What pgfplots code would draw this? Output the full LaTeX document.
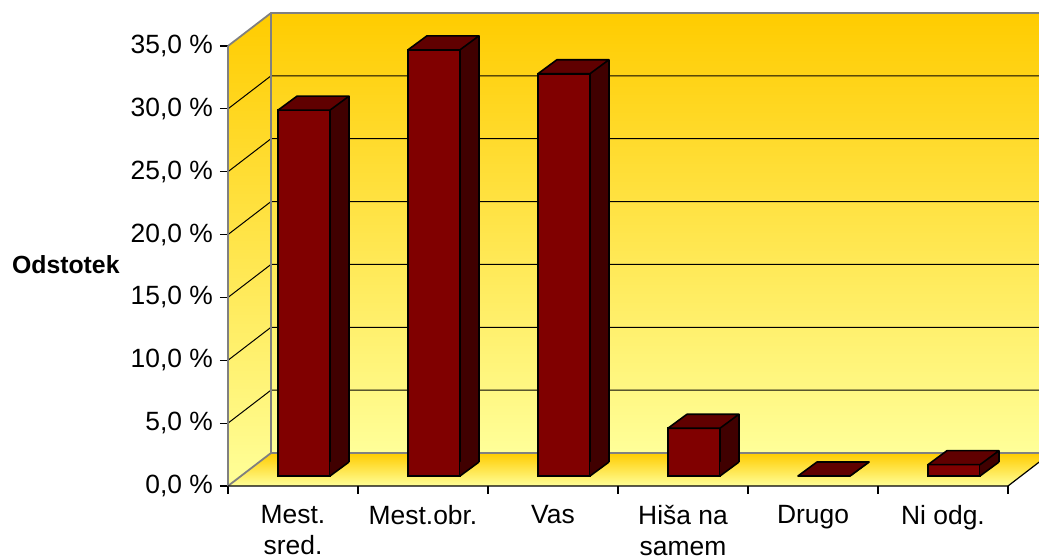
\documentclass[border=0pt]{standalone}
\usepackage{pgfplots}
\pgfplotsset{compat=1.18}
\usepackage{pgfplotstable}
\usepackage{fontspec}
\setmainfont{Liberation Sans}

\definecolor{gold}{RGB}{255,204,0}
\definecolor{pale}{RGB}{255,255,153}
\definecolor{barfront}{RGB}{128,0,0}
\definecolor{bartop}{RGB}{96,0,0}
\definecolor{barside}{RGB}{64,0,0}
\definecolor{edgegray}{RGB}{128,128,128}

% top face of a bar; the mark sits at the top front centre
\pgfdeclareplotmark{bartopface}{%
  \pgfsetstrokecolor{black}%
  \pgfsetlinewidth{0.8pt}%
  \pgfsetroundjoin
  \pgfpathmoveto{\pgfqpoint{-13pt}{0pt}}%
  \pgfpathlineto{\pgfqpoint{13pt}{0pt}}%
  \pgfpathlineto{\pgfqpoint{22.5pt}{7pt}}%
  \pgfpathlineto{\pgfqpoint{-3.5pt}{7pt}}%
  \pgfpathclose
  \pgfsetfillcolor{bartop}%
  \pgfusepath{fill,stroke}%
}
% lower corner of the side face; the mark sits at the bottom front centre
\pgfdeclareplotmark{barsidefoot}{%
  \pgfpathmoveto{\pgfqpoint{13pt}{0pt}}%
  \pgfpathlineto{\pgfqpoint{22.5pt}{7pt}}%
  \pgfpathlineto{\pgfqpoint{13pt}{7pt}}%
  \pgfpathclose
  \pgfsetfillcolor{barside}%
  \pgfusepath{fill}%
  \pgfsetstrokecolor{black}%
  \pgfsetlinewidth{0.8pt}%
  \pgfpathmoveto{\pgfqpoint{13pt}{0pt}}%
  \pgfpathlineto{\pgfqpoint{22.5pt}{7pt}}%
  \pgfusepath{stroke}%
}

\pgfplotstableread{
x v
0 29.1
1 33.9
2 32.0
3 3.8
4 0
5 0.9
}\datatable

\begin{document}
\begin{tikzpicture}
\useasboundingbox (0,0) rectangle (519.5pt,280pt);
\clip (0,0) rectangle (519.5pt,280pt);
\begin{axis}[
  at={(114pt,37pt)}, anchor=south west,
  scale only axis, width=390pt, height=220pt,
  xmin=-0.5, xmax=5.5, ymin=0, ymax=35,
  clip=false,
  axis line style={draw=none},
  tick pos=left, tick align=outside,
  major tick length=4pt,
  tick style={black, line width=0.6pt},
  xtick={-0.5,0.5,...,5.5},
  xticklabels={},
  extra x ticks={0,1,2,3,4,5},
  extra x tick labels={{Mest.\\sred.},Mest.obr.,Vas,{Hiša na\\samem},Drugo,Ni odg.},
  extra x tick style={major tick length=0pt},
  ytick={0,5,...,35},
  /pgf/number format/assume math mode=true,
  yticklabel={\pgfmathprintnumber[fixed,fixed zerofill,precision=1,use comma]{\tick}~\%},
  tick label style={font=\fontsize{13.2}{15.5}\selectfont},
  xticklabel style={align=center, yshift=-6pt},
  ylabel={Odstotek},
  every axis y label/.style={at={(axis description cs:-0.1385,0.484)},anchor=base east,inner sep=0pt,font=\bfseries\fontsize{12.4}{15}\selectfont},
]
% walls and floor
\shade[top color=gold, bottom color=pale]
  ([shift={(21.5pt,16.5pt)}]axis cs:-0.5,0) rectangle ([shift={(21.5pt,16.5pt)}]axis cs:5.5,35);
\shade[top color=gold, bottom color=pale]
  (axis cs:-0.5,0) -- ([shift={(21.5pt,16.5pt)}]axis cs:-0.5,0) -- ([shift={(21.5pt,16.5pt)}]axis cs:-0.5,35) -- (axis cs:-0.5,35) -- cycle;
\shade[top color=gold, bottom color=pale]
  (axis cs:-0.5,0) -- (axis cs:5.5,0) -- ([shift={(21.5pt,16.5pt)}]axis cs:5.5,0) -- ([shift={(21.5pt,16.5pt)}]axis cs:-0.5,0) -- cycle;
% gridlines
\pgfplotsinvokeforeach{5,10,15,20,25,30}{
  \draw[black, line width=0.5pt] (axis cs:-0.5,#1) -- ([shift={(21.5pt,16.5pt)}]axis cs:-0.5,#1) -- ([shift={(21.5pt,16.5pt)}]axis cs:5.5,#1);
}
% wall edges
\draw[edgegray, line width=0.9pt] (axis cs:-0.5,35) -- ([shift={(21.5pt,16.5pt)}]axis cs:-0.5,35) -- ([shift={(21.5pt,16.5pt)}]axis cs:5.5,35);
\draw[edgegray, line width=0.9pt] (axis cs:-0.5,0) -- ([shift={(21.5pt,16.5pt)}]axis cs:-0.5,0) -- ([shift={(21.5pt,16.5pt)}]axis cs:5.5,0);
\draw[edgegray, line width=0.9pt] ([shift={(21.5pt,16.5pt)}]axis cs:-0.5,0) -- ([shift={(21.5pt,16.5pt)}]axis cs:-0.5,35);
\draw[edgegray, line width=0.9pt] (axis cs:-0.5,0) -- (axis cs:-0.5,35);
\draw[black, line width=0.6pt] (axis cs:-0.5,0) -- (axis cs:5.5,0) -- ([shift={(21.5pt,16.5pt)}]axis cs:5.5,0);
% bars: back face (shows as the side face)
\addplot[ybar, bar width=26pt, bar shift=15pt, yshift=12pt, fill=barside, draw=none]
  table[x=x, y=v] {\datatable};
% bars: back right edge
\addplot[ycomb, xshift=28pt, yshift=12pt, black, line width=0.8pt, mark=none]
  table[x=x, y=v] {\datatable};
% bars: front faces
\addplot[ybar, bar width=26pt, bar shift=5.5pt, yshift=5pt, fill=barfront, draw=black, line width=0.8pt]
  table[x=x, y=v] {\datatable};
% bars: foot of side faces
\addplot[only marks, mark=barsidefoot, xshift=5.5pt, yshift=5pt]
  table[x=x, y expr=0] {\datatable};
% bars: top faces
\addplot[only marks, mark=bartopface, xshift=5.5pt, yshift=5pt]
  table[x=x, y=v] {\datatable};
\end{axis}
\end{tikzpicture}
\end{document}
